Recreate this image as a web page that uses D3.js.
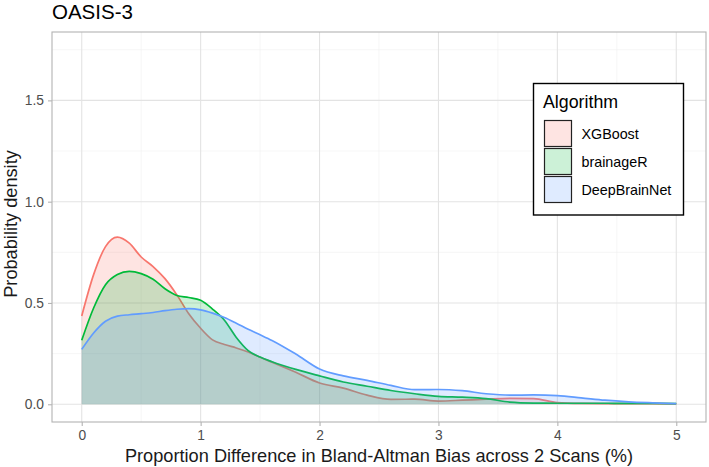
<!DOCTYPE html>
<html>
<head>
<meta charset="utf-8">
<script src="https://cdn.jsdelivr.net/npm/d3@7"></script>
<style>
  body { margin: 0; background: #fff; }
  svg { font-family: "Liberation Sans", Arial, Helvetica, sans-serif; }
</style>
</head>
<body>
<div id="chart"></div>
<script>
// ########## data #############
const algorithms = ["XGBoost", "brainageR", "DeepBrainNet"];
const colors = ["#F8766D", "#00BA38", "#619CFF"];

// density grid (x, %) shared by the three curves
const xGrid = [0, 0.1, 0.2, 0.3, 0.4, 0.5, 0.6, 0.7, 0.8, 0.9, 1.0, 1.1, 1.2, 1.3, 1.4, 1.5, 1.6,
               1.8, 2.0, 2.2, 2.4, 2.6, 2.8, 3.0, 3.2, 3.4, 3.6, 3.8, 4.0, 4.2, 4.4, 4.6, 4.8, 5.0];

const xgboost = [0.436, 0.64, 0.778, 0.825, 0.795, 0.727, 0.68, 0.62, 0.54, 0.447, 0.375, 0.318, 0.295,
                 0.278, 0.258, 0.232, 0.208, 0.158, 0.105, 0.08, 0.045, 0.024, 0.025, 0.016, 0.02, 0.025,
                 0.029, 0.028, 0.008, 0.004, 0.003, 0.003, 0.003, 0.002];
const brainager = [0.316, 0.475, 0.59, 0.64, 0.656, 0.645, 0.617, 0.57, 0.537, 0.527, 0.513, 0.47, 0.415,
                   0.33, 0.265, 0.233, 0.21, 0.172, 0.14, 0.11, 0.089, 0.068, 0.052, 0.039, 0.035, 0.028,
                   0.011, 0.006, 0.005, 0.005, 0.005, 0.004, 0.004, 0.003];
const deepbrainnet = [0.271, 0.352, 0.41, 0.435, 0.442, 0.447, 0.453, 0.462, 0.469, 0.472, 0.466, 0.45, 0.428,
                      0.40, 0.37, 0.343, 0.315, 0.248, 0.174, 0.14, 0.118, 0.093, 0.072, 0.073, 0.067, 0.052,
                      0.045, 0.046, 0.043, 0.032, 0.02, 0.012, 0.007, 0.003];

const xTicks = [0, 1, 2, 3, 4, 5];
const yTicks = [0, 0.5, 1.0, 1.5];

// ########## layout #############
const width = 709, height = 467;
const panel = { left: 52, top: 32, right: 706, bottom: 422 };

const svg = d3.select("#chart").append("svg")
    .attr("width", width).attr("height", height);

const x = d3.scaleLinear().domain([-0.25, 5.25]).range([panel.left, panel.right]);
const y = d3.scaleLinear().domain([-0.0875, 1.8375]).range([panel.bottom, panel.top]);

// grid lines (minor then major)
const grid = svg.append("g");
const xMinor = d3.range(-0.5, 5.6, 1).filter(v => v > -0.25 && v < 5.25);
const yMinor = [0.25, 0.75, 1.25, 1.75];

grid.selectAll(".vminor").data(xMinor).enter().append("line")
    .attr("x1", d => x(d)).attr("x2", d => x(d))
    .attr("y1", panel.top).attr("y2", panel.bottom)
    .attr("stroke", "#f0f0f0").attr("stroke-width", 0.6);
grid.selectAll(".hminor").data(yMinor).enter().append("line")
    .attr("y1", d => y(d)).attr("y2", d => y(d))
    .attr("x1", panel.left).attr("x2", panel.right)
    .attr("stroke", "#f0f0f0").attr("stroke-width", 0.6);
grid.selectAll(".vmajor").data(xTicks).enter().append("line")
    .attr("x1", d => x(d)).attr("x2", d => x(d))
    .attr("y1", panel.top).attr("y2", panel.bottom)
    .attr("stroke", "#e3e3e3").attr("stroke-width", 1.1);
grid.selectAll(".hmajor").data(yTicks).enter().append("line")
    .attr("y1", d => y(d)).attr("y2", d => y(d))
    .attr("x1", panel.left).attr("x2", panel.right)
    .attr("stroke", "#e3e3e3").attr("stroke-width", 1.1);

// ########## densities #############
const series = [xgboost, brainager, deepbrainnet];

const area = d3.area()
    .x((d, i) => x(xGrid[i]))
    .y0(y(0))
    .y1(d => y(d))
    .curve(d3.curveMonotoneX);

const line = d3.line()
    .x((d, i) => x(xGrid[i]))
    .y(d => y(d))
    .curve(d3.curveMonotoneX);

const curves = svg.append("g");
series.forEach((vals, k) => {
    curves.append("path").datum(vals)
        .attr("d", area)
        .attr("fill", colors[k]).attr("fill-opacity", 0.2);
    curves.append("path").datum(vals)
        .attr("d", line)
        .attr("fill", "none")
        .attr("stroke", colors[k]).attr("stroke-width", 1.7);
});

// panel border
svg.append("rect")
    .attr("x", panel.left).attr("y", panel.top)
    .attr("width", panel.right - panel.left).attr("height", panel.bottom - panel.top)
    .attr("fill", "none").attr("stroke", "#b3b3b3").attr("stroke-width", 1.1);

// ########## axes #############
const xAxis = svg.append("g")
    .attr("transform", `translate(0,${panel.bottom})`)
    .call(d3.axisBottom(x).tickValues(xTicks).tickFormat(d3.format("d")).tickSize(4).tickPadding(4));
const yAxis = svg.append("g")
    .attr("transform", `translate(${panel.left},0)`)
    .call(d3.axisLeft(y).tickValues(yTicks).tickFormat(d3.format(".1f")).tickSize(4).tickPadding(4));

[xAxis, yAxis].forEach(ax => {
    ax.select(".domain").remove();
    ax.selectAll(".tick line").attr("stroke", "#b3b3b3").attr("stroke-width", 1.1);
    ax.selectAll(".tick text")
        .attr("fill", "#4d4d4d")
        .style("font-size", "13.8px")
        .style("font-family", "\"Liberation Sans\", Arial, sans-serif");
});
xAxis.selectAll(".tick text").attr("y", 18).attr("dy", 0);

// titles
svg.append("text")
    .attr("x", panel.left).attr("y", 18.5)
    .style("font-size", "20.5px").attr("fill", "#000")
    .text("OASIS-3");

svg.append("text")
    .attr("x", (panel.left + panel.right) / 2).attr("y", 462)
    .attr("text-anchor", "middle")
    .style("font-size", "18.2px").attr("fill", "#1a1a1a")
    .text("Proportion Difference in Bland-Altman Bias across 2 Scans (%)");

svg.append("text")
    .attr("transform", `translate(16.5,${(panel.top + panel.bottom) / 2 - 3}) rotate(-90)`)
    .attr("text-anchor", "middle")
    .style("font-size", "18.2px").attr("fill", "#1a1a1a")
    .text("Probability density");

// ########## legend #############
const legend = svg.append("g");
legend.append("rect")
    .attr("x", 533.5).attr("y", 83.5)
    .attr("width", 150).attr("height", 131.5)
    .attr("fill", "#fff").attr("stroke", "#000").attr("stroke-width", 1.4);
legend.append("text")
    .attr("x", 543).attr("y", 107.5)
    .style("font-size", "17.8px").attr("fill", "#000")
    .text("Algorithm");

const keys = legend.selectAll(".key").data(algorithms).enter().append("g")
    .attr("transform", (d, i) => `translate(544.5,${120.5 + i * 28})`);
keys.append("rect")
    .attr("width", 27).attr("height", 26)
    .attr("fill", "#fff").attr("stroke", "none");
keys.append("rect")
    .attr("width", 27).attr("height", 26)
    .attr("fill", (d, i) => colors[i]).attr("fill-opacity", 0.2)
    .attr("stroke", "#222").attr("stroke-width", 1.2);
keys.append("text")
    .attr("x", 37).attr("y", 18)
    .style("font-size", "14.3px").attr("fill", "#000")
    .text(d => d);
</script>
</body>
</html>
